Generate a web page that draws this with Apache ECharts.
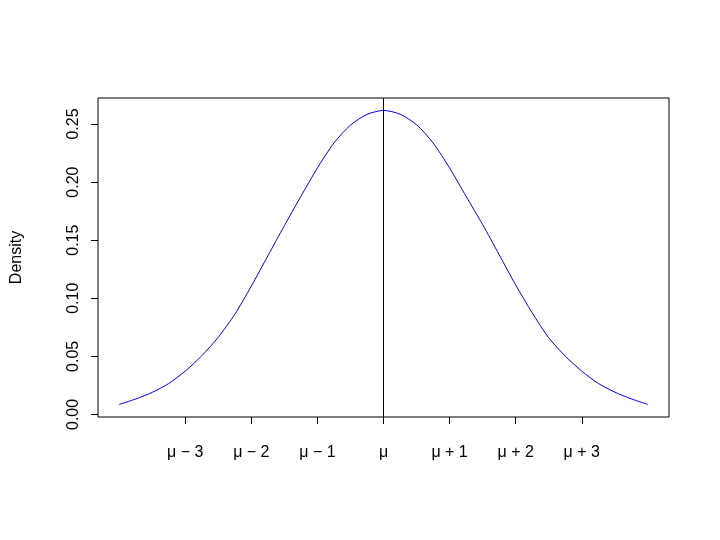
<!DOCTYPE html>
<html>
<head>
<meta charset="utf-8">
<script src="https://cdn.jsdelivr.net/npm/echarts@6/dist/echarts.min.js"></script>
<style>
html,body{margin:0;padding:0;background:#fff;}
#chart{width:720px;height:540px;}
</style>
</head>
<body>
<div id="chart"></div>
<script>
// Data
var xValues = [-4, -3.75, -3.5, -3.25, -3, -2.75, -2.5, -2.25, -2, -1.75, -1.5, -1.25, -1, -0.75, -0.5, -0.25, 0,
               0.25, 0.5, 0.75, 1, 1.25, 1.5, 1.75, 2, 2.25, 2.5, 2.75, 3, 3.25, 3.5, 3.75, 4];
var densityValues = [0.0086, 0.0133, 0.0190, 0.0266, 0.0373, 0.0505, 0.0665, 0.0862, 0.1105, 0.1365, 0.1625, 0.1877, 0.2122, 0.2337, 0.2490, 0.2583, 0.2617,
                     0.2585, 0.2494, 0.2337, 0.2122, 0.1877, 0.1635, 0.1375, 0.1115, 0.0875, 0.0660, 0.0502, 0.0373, 0.0267, 0.0192, 0.0134, 0.0086];
var xTickValues = [-3, -2, -1, 0, 1, 2, 3];
var xTickLabels = ['μ − 3', 'μ − 2', 'μ − 1', 'μ', 'μ + 1', 'μ + 2', 'μ + 3'];
var yTickValues = [0, 0.05, 0.10, 0.15, 0.20, 0.25];
var yAxisTitle = 'Density';

var points = xValues.map(function (x, i) { return [x, densityValues[i]]; });
var font = 'Liberation Sans, Arial, sans-serif';

var chart = echarts.init(document.getElementById('chart'), null, {renderer: 'canvas'});
chart.setOption({
  animation: false,
  backgroundColor: '#ffffff',
  grid: {
    left: 98, right: 51, top: 98, bottom: 123,
    containLabel: false,
    outerBoundsMode: 'none',
    show: true, borderColor: '#000', borderWidth: 1, backgroundColor: 'transparent'
  },
  xAxis: {
    type: 'value',
    min: -4.32, max: 4.32,
    axisLine: {show: false, onZero: false},
    splitLine: {show: false},
    axisTick: {show: true, length: 7, lineStyle: {color: '#000', width: 1}, customValues: xTickValues},
    axisLabel: {
      customValues: xTickValues,
      margin: 28,
      color: '#000',
      fontSize: 16,
      fontFamily: font,
      formatter: function (v) {
        var idx = xTickValues.indexOf(Math.round(v));
        return idx >= 0 ? xTickLabels[idx] : '';
      }
    }
  },
  yAxis: {
    type: 'value',
    min: -0.0022, max: 0.2724,
    name: yAxisTitle,
    nameLocation: 'middle',
    nameGap: 73,
    nameRotate: 90,
    nameTextStyle: {color: '#000', fontSize: 16, fontFamily: font},
    axisLine: {show: false, onZero: false},
    splitLine: {show: false},
    axisTick: {show: true, length: 7, lineStyle: {color: '#000', width: 1}, customValues: yTickValues},
    axisLabel: {
      customValues: yTickValues,
      rotate: 90,
      margin: 16,
      color: '#000',
      fontSize: 16,
      fontFamily: font,
      formatter: function (v) { return v.toFixed(2); }
    }
  },
  series: [{
    type: 'line',
    data: points,
    smooth: 0.25,
    showSymbol: false,
    lineStyle: {color: '#0000ff', width: 1},
    markLine: {
      silent: true,
      symbol: ['none', 'none'],
      label: {show: false},
      lineStyle: {color: '#000', width: 1, type: 'solid'},
      data: [{xAxis: 0}]
    }
  }]
});
</script>
</body>
</html>
